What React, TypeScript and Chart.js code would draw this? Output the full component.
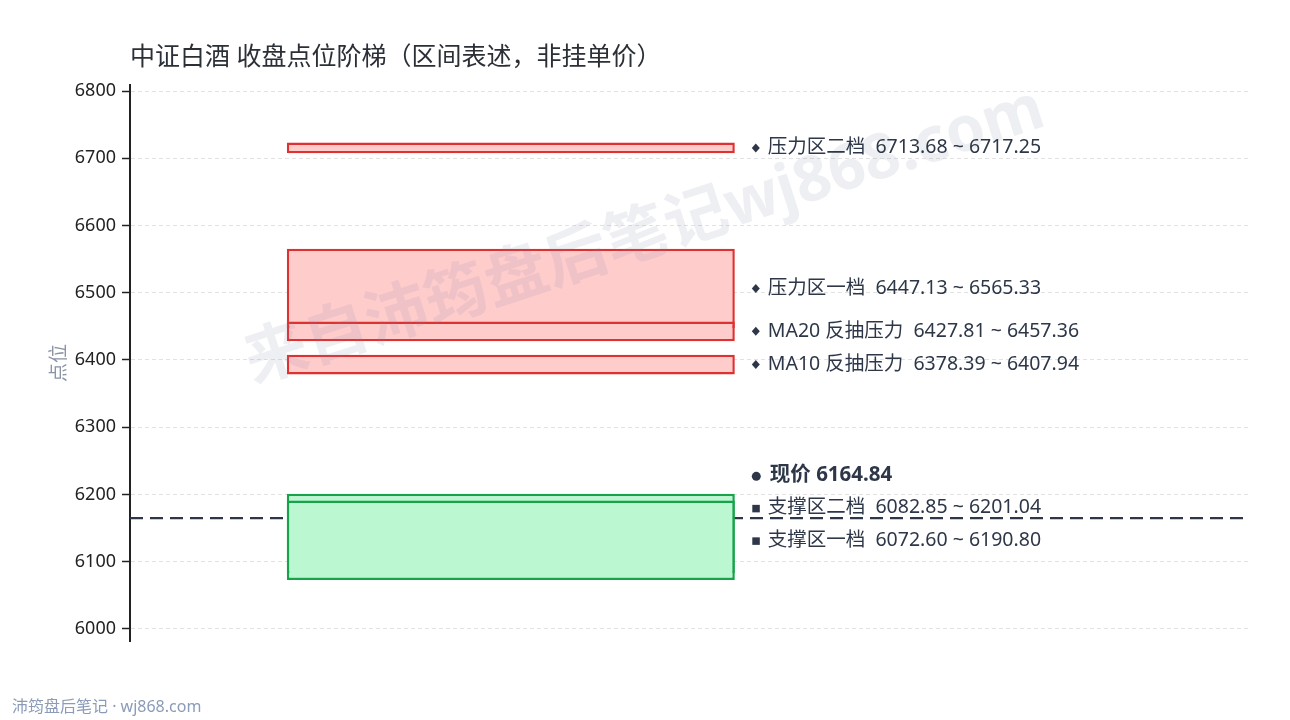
import { useEffect, useRef } from "react"
import { Chart, registerables, type ChartConfiguration, type Plugin } from "chart.js"

Chart.register(...registerables)

const FONT = '"Noto Sans", "Noto Sans CJK SC", sans-serif'

// zones, drawn in this order (later ones on top)
const zoneNames = ["压力区二档", "压力区一档", "MA20 反抽压力", "MA10 反抽压力", "支撑区二档", "支撑区一档"]
const zoneLow = [6713.68, 6447.13, 6427.81, 6378.39, 6082.85, 6072.6]
const zoneHigh = [6717.25, 6565.33, 6457.36, 6407.94, 6201.04, 6190.8]
const zoneKind = ["resist", "resist", "resist", "resist", "support", "support"]

const currentPrice = 6164.84
const yTicks = [6000, 6100, 6200, 6300, 6400, 6500, 6600, 6700, 6800]

const TITLE = "中证白酒 收盘点位阶梯（区间表述，非挂单价）"
const WATERMARK = "来自沛筠盘后笔记wj868.com"
const FOOTER = "沛筠盘后笔记 · wj868.com"

const MIN_SPAN = 16 // points, so thin zones stay visible
const ZONE_X = 0.34

const RED_FILL = "#ffcccc"
const RED_LINE = "#e03131"
const GREEN_FILL = "#bbf7d0"
const GREEN_LINE = "#16a34a"
const TEXT = "#2d3748"

function displaySpan(lo: number, hi: number): [number, number] {
  if (hi - lo >= MIN_SPAN) return [lo, hi]
  const mid = (lo + hi) / 2
  return [mid - MIN_SPAN / 2, mid + MIN_SPAN / 2]
}

const overlay: Plugin = {
  id: "overlay",
  afterDraw(chart) {
    const { ctx, chartArea } = chart
    const yScale = chart.scales.y
    const bar = chart.getDatasetMeta(1).data[0] as any
    const barRight = bar.x + bar.width / 2

    ctx.save()

    // watermark
    ctx.save()
    ctx.translate(645, 237)
    ctx.rotate((-18 * Math.PI) / 180)
    ctx.font = `bold 63px ${FONT}`
    ctx.fillStyle = "rgba(120, 135, 160, 0.13)"
    ctx.textAlign = "center"
    ctx.textBaseline = "middle"
    ctx.fillText(WATERMARK, 0, 0)
    ctx.restore()

    // title
    ctx.font = `25px ${FONT}`
    ctx.fillStyle = "#2b2f36"
    ctx.textAlign = "left"
    ctx.textBaseline = "middle"
    ctx.fillText(TITLE, chartArea.left, 58)

    // axis title
    ctx.save()
    ctx.translate(60, (chartArea.top + chartArea.bottom) / 2)
    ctx.rotate(-Math.PI / 2)
    ctx.font = `19px ${FONT}`
    ctx.fillStyle = "#8a94a6"
    ctx.textAlign = "center"
    ctx.textBaseline = "middle"
    ctx.fillText("点位", 0, 0)
    ctx.restore()

    // footer
    ctx.font = `16px ${FONT}`
    ctx.fillStyle = "#8b9bb8"
    ctx.textAlign = "left"
    ctx.textBaseline = "middle"
    ctx.fillText(FOOTER, 12, 707)

    // right-side labels, stacked bottom-up so they don't collide
    const items = zoneNames.map((name, i) => {
      const [a, b] = displaySpan(zoneLow[i], zoneHigh[i])
      return {
        text: `${name}  ${zoneLow[i].toFixed(2)} ~ ${zoneHigh[i].toFixed(2)}`,
        kind: zoneKind[i],
        center: yScale.getPixelForValue((a + b) / 2),
        y: 0,
      }
    })
    items.push({ text: `现价 ${currentPrice.toFixed(2)}`, kind: "price", center: yScale.getPixelForValue(currentPrice), y: 0 })
    items.sort((p, q) => q.center - p.center)
    const gap = 32.5
    let prev = Infinity
    for (const it of items) {
      it.y = Math.min(it.center, prev - gap)
      prev = it.y
    }

    const mx = barRight + 21
    const tx = barRight + 33
    for (const it of items) {
      ctx.fillStyle = TEXT
      if (it.kind === "resist") {
        ctx.beginPath()
        ctx.moveTo(mx, it.y - 4.5)
        ctx.lineTo(mx + 4, it.y)
        ctx.lineTo(mx, it.y + 4.5)
        ctx.lineTo(mx - 4, it.y)
        ctx.closePath()
        ctx.fill()
      } else if (it.kind === "support") {
        ctx.fillRect(mx - 3.5, it.y - 3, 7.5, 7.5)
      } else {
        ctx.beginPath()
        ctx.arc(mx + 0.5, it.y + 1, 4.5, 0, Math.PI * 2)
        ctx.fill()
      }
      ctx.font = it.kind === "price" ? `bold 20.5px ${FONT}` : `19.5px ${FONT}`
      ctx.textAlign = "left"
      ctx.textBaseline = "middle"
      ctx.fillText(it.text, it.kind === "price" ? tx + 2 : tx, it.y)
    }

    ctx.restore()
  },
}

export default function App() {
  const canvasRef = useRef<HTMLCanvasElement>(null)
  const chartRef = useRef<Chart | null>(null)

  useEffect(() => {
    document.body.style.margin = "0"
    if (!canvasRef.current) return
    if (chartRef.current) chartRef.current.destroy()

    Chart.defaults.font.family = FONT

    const bars = zoneLow.map((lo, i) => ({ x: ZONE_X, y: displaySpan(lo, zoneHigh[i]) }))

    const config: ChartConfiguration = {
      type: "bar",
      data: {
        datasets: [
          {
            type: "line",
            data: [
              { x: 0, y: currentPrice },
              { x: 1, y: currentPrice },
            ],
            borderColor: TEXT,
            borderWidth: 2.2,
            borderDash: [13, 7],
            pointRadius: 0,
            fill: false,
            order: 2,
          } as any,
          {
            type: "bar",
            data: bars as any,
            backgroundColor: zoneKind.map((k) => (k === "resist" ? RED_FILL : GREEN_FILL)),
            borderColor: zoneKind.map((k) => (k === "resist" ? RED_LINE : GREEN_LINE)),
            borderWidth: 2.5,
            borderSkipped: false,
            barPercentage: 0.4,
            categoryPercentage: 1,
            order: 1,
          },
        ],
      },
      options: {
        animation: false,
        responsive: true,
        maintainAspectRatio: false,
        layout: { padding: { top: 85, right: 40, bottom: 79, left: 0 } },
        plugins: {
          legend: { display: false },
          tooltip: { enabled: false },
          title: { display: false },
        },
        scales: {
          x: {
            type: "linear",
            min: 0,
            max: 1,
            offset: false,
            display: false,
            afterBuildTicks: (scale) => {
              scale.ticks = [{ value: 0 }, { value: 1 }]
            },
          },
          y: {
            type: "linear",
            min: 5982,
            max: 6809,
            afterBuildTicks: (scale) => {
              scale.ticks = yTicks.map((v) => ({ value: v }))
            },
            afterFit: (scale) => {
              scale.width = 130
            },
            ticks: {
              font: { size: 18, family: FONT },
              color: "#222222",
              padding: 6,
              callback: (v) => String(v),
            },
            grid: {
              color: "#e2e2e2",
              lineWidth: 1,
              tickColor: "#222222",
              tickLength: 8,
              tickWidth: 1.5,
            },
            border: {
              display: true,
              color: "#222222",
              width: 2,
              dash: [4, 3],
            },
          },
        },
      },
      plugins: [overlay],
    }

    chartRef.current = new Chart(canvasRef.current, config)

    return () => {
      if (chartRef.current) {
        chartRef.current.destroy()
        chartRef.current = null
      }
    }
  }, [])

  return (
    <div style={{ width: "1290px", height: "720px", position: "relative", background: "#ffffff" }}>
      <canvas ref={canvasRef} />
    </div>
  )
}
